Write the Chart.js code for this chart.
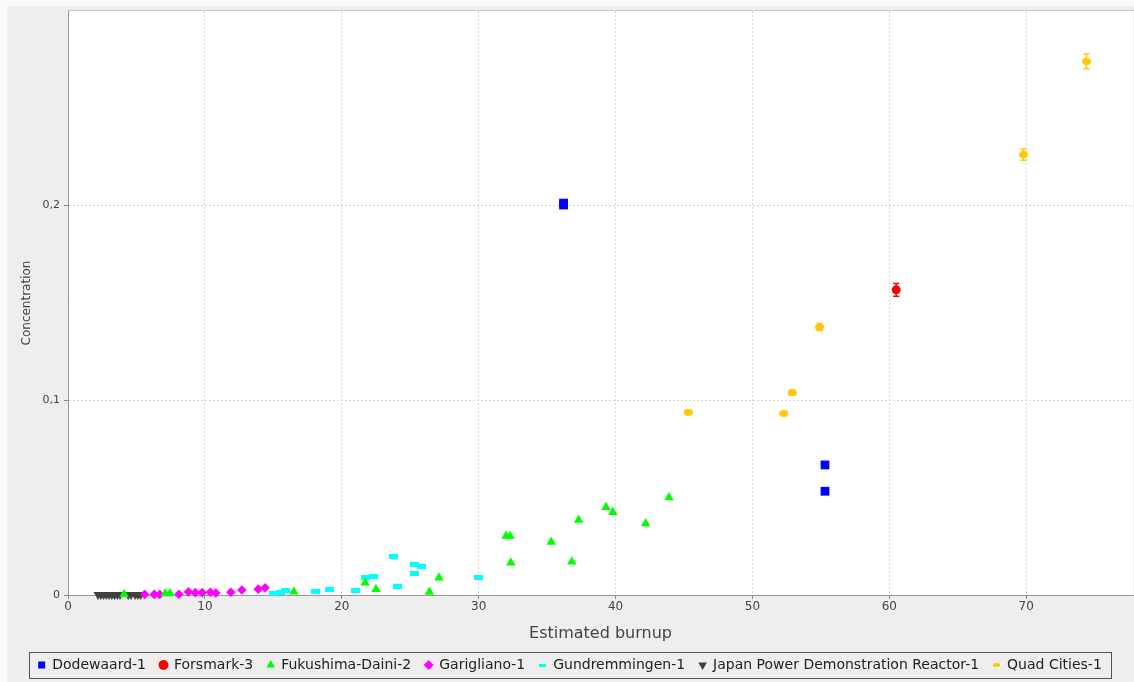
<!DOCTYPE html>
<html>
<head>
    <title>Concentration vs estimated burnup</title>
    <script src="https://cdn.jsdelivr.net/npm/chart.js"></script>
    <style>
        html, body { margin: 0; padding: 0; background: #fff; }
    </style>
</head>
<body>
    <canvas id="chart" width="1134" height="682"></canvas>
    <script>
        // burnup (x) / concentration (y) / error (+-) per reactor
        const dodewaardX = [36.2, 36.2, 55.3, 55.3];
        const dodewaardY = [0.2000, 0.2010, 0.0667, 0.0532];

        const forsmarkX = [60.5];
        const forsmarkY = [0.1565];
        const forsmarkErr = [0.0033];

        const fukushimaX = [4.1, 7.1, 7.45, 16.5, 21.7, 22.5, 26.4, 27.1, 32.0, 32.3, 32.35, 35.3, 36.8, 37.3, 39.3, 39.8, 42.2, 43.9];
        const fukushimaY = [0.0004, 0.0008, 0.0008, 0.0017, 0.0063, 0.0029, 0.0015, 0.0088, 0.0302, 0.0302, 0.0166, 0.0272, 0.0170, 0.0385, 0.0450, 0.0425, 0.0367, 0.0500];

        const gariglianoX = [5.6, 6.3, 6.7, 8.1, 8.8, 9.3, 9.8, 10.4, 10.8, 11.9, 12.7, 13.9, 14.4];
        const gariglianoY = [0.0003, 0.0003, 0.0003, 0.0004, 0.0016, 0.0012, 0.0012, 0.0014, 0.0010, 0.0014, 0.0026, 0.0030, 0.0037];

        const gundremmingenX = [15.0, 15.5, 15.9, 18.1, 19.1, 21.0, 21.7, 22.3, 23.8, 24.1, 25.3, 25.8, 25.3, 30.0];
        const gundremmingenY = [0.0010, 0.0012, 0.0025, 0.0017, 0.0030, 0.0025, 0.0090, 0.0096, 0.0200, 0.0046, 0.0158, 0.0148, 0.0110, 0.0090];

        const jpdrX = [2.2, 2.4, 2.6, 2.8, 3.0, 3.2, 3.4, 3.6, 3.8, 4.4, 4.6, 4.9, 5.1, 5.3];
        const jpdrY = [0.0002, 0.0002, 0.0002, 0.0002, 0.0002, 0.0002, 0.0002, 0.0002, 0.0002, 0.0002, 0.0002, 0.0002, 0.0002, 0.0002];

        const quadX = [45.3, 52.3, 52.9, 54.9, 69.8, 74.4];
        const quadY = [0.0938, 0.0932, 0.1038, 0.1374, 0.2258, 0.2737];
        const quadErr = [0.0005, 0.0005, 0.0012, 0.0018, 0.0029, 0.0038];

        const xTicksStep = 10;
        const yTicksStep = 0.1;

        const pts = (xs, ys) => xs.map((x, i) => ({x: x, y: ys[i]}));

        // small canvases used as marker shapes
        function barMark(color, w, h) {
            const c = document.createElement('canvas');
            c.width = w; c.height = h;
            const g = c.getContext('2d');
            g.fillStyle = color;
            g.fillRect(0, 0, w, h);
            return c;
        }
        function ovalMark(color, w, h) {
            const c = document.createElement('canvas');
            c.width = w; c.height = h;
            const g = c.getContext('2d');
            g.fillStyle = color;
            g.beginPath();
            g.ellipse(w / 2, h / 2, w / 2, h / 2, 0, 0, Math.PI * 2);
            g.fill();
            return c;
        }

        const bg = {
            id: 'bg',
            beforeDraw(chart) {
                const {ctx, chartArea: a} = chart;
                ctx.save();
                ctx.fillStyle = '#fafafa';
                ctx.fillRect(0, 0, chart.width, chart.height);
                ctx.fillStyle = '#eeeeee';
                ctx.fillRect(7, 6, chart.width - 7, chart.height - 6);
                ctx.fillStyle = '#ffffff';
                ctx.fillRect(a.left, a.top, a.right - a.left, a.bottom - a.top);
                ctx.strokeStyle = '#c8c8c8';
                ctx.lineWidth = 1;
                ctx.beginPath();
                ctx.moveTo(a.left, a.top - 0.5);
                ctx.lineTo(chart.width, a.top - 0.5);
                ctx.stroke();
                ctx.restore();
            }
        };

        const errorBars = {
            id: 'errorBars',
            afterDatasetsDraw(chart) {
                const {ctx, scales: {x, y}} = chart;
                chart.data.datasets.forEach(ds => {
                    if (!ds.errors) return;
                    ctx.save();
                    ctx.strokeStyle = ds.backgroundColor;
                    ctx.lineWidth = 1.5;
                    ds.data.forEach((p, j) => {
                        const e = ds.errors[j];
                        const px = x.getPixelForValue(p.x);
                        const top = y.getPixelForValue(p.y + e);
                        const bot = y.getPixelForValue(p.y - e);
                        ctx.beginPath();
                        ctx.moveTo(px, top); ctx.lineTo(px, bot);
                        ctx.moveTo(px - 3, top); ctx.lineTo(px + 3, top);
                        ctx.moveTo(px - 3, bot); ctx.lineTo(px + 3, bot);
                        ctx.stroke();
                    });
                    ctx.restore();
                });
            }
        };

        const legendBox = {
            id: 'legendBox',
            afterDraw(chart) {
                const boxes = chart.legend.legendHitBoxes;
                if (!boxes.length) return;
                const left = Math.min(...boxes.map(b => b.left)) - 9;
                const right = Math.max(...boxes.map(b => b.left + b.width)) + 9;
                const top = boxes[0].top - 6;
                const h = boxes[0].height + 12;
                const ctx = chart.ctx;
                ctx.save();
                ctx.strokeStyle = '#555';
                ctx.lineWidth = 1;
                ctx.strokeRect(Math.round(left) + 0.5, Math.round(top) + 0.5, Math.round(right - left), h);
                ctx.restore();
            }
        };

        const datasets = [
            {label: 'Dodewaard-1', data: pts(dodewaardX, dodewaardY), backgroundColor: '#0000ff', pointStyle: 'rect', pointRadius: 6.2},
            {label: 'Forsmark-3', data: pts(forsmarkX, forsmarkY), errors: forsmarkErr, backgroundColor: '#ff0000', pointStyle: 'circle', pointRadius: 4.5},
            {label: 'Fukushima-Daini-2', data: pts(fukushimaX, fukushimaY), backgroundColor: '#00ff00', pointStyle: 'triangle', pointRadius: 5.5},
            {label: 'Garigliano-1', data: pts(gariglianoX, gariglianoY), backgroundColor: '#ff00ff', pointStyle: 'rectRot', pointRadius: 4.8},
            {label: 'Gundremmingen-1', data: pts(gundremmingenX, gundremmingenY), backgroundColor: '#00ffff', pointStyle: barMark('#00ffff', 9, 5), legendStyle: barMark('#00ffff', 7, 3)},
            {label: 'Japan Power Demonstration Reactor-1', data: pts(jpdrX, jpdrY), backgroundColor: '#404040', pointStyle: 'triangle', rotation: 180, pointRadius: 5.3},
            {label: 'Quad Cities-1', data: pts(quadX, quadY), errors: quadErr, backgroundColor: '#ffc800', pointStyle: ovalMark('#ffc800', 9, 7), legendStyle: ovalMark('#ffc800', 7, 4)}
        ];
        datasets.forEach(d => { d.borderWidth = 0; d.borderColor = d.backgroundColor; d.clip = false; });

        Chart.defaults.font.family = '"DejaVu Sans", sans-serif';
        Chart.defaults.color = '#444';

        new Chart(document.getElementById('chart'), {
            type: 'scatter',
            data: {datasets: datasets},
            plugins: [bg, errorBars, legendBox],
            options: {
                responsive: false,
                animation: false,
                layout: {autoPadding: false, padding: {left: 7, top: 11, right: 1, bottom: 0}},
                plugins: {
                    tooltip: {enabled: false},
                    legend: {
                        position: 'bottom',
                        labels: {
                            usePointStyle: true,
                            boxWidth: 7,
                            boxHeight: 7,
                            padding: 14,
                            color: '#222',
                            font: {size: 14},
                            generateLabels(chart) {
                                const items = Chart.defaults.plugins.legend.labels.generateLabels(chart);
                                items.forEach(it => {
                                    const ds = chart.data.datasets[it.datasetIndex];
                                    if (ds.legendStyle) it.pointStyle = ds.legendStyle;
                                });
                                return items;
                            }
                        }
                    }
                },
                scales: {
                    x: {
                        type: 'linear',
                        min: 0,
                        max: 77.8,
                        afterFit(s) { s.height = 49; },
                        title: {display: true, text: 'Estimated burnup', font: {size: 16}, color: '#444', padding: {top: 2, bottom: 1}},
                        ticks: {stepSize: xTicksStep, includeBounds: false, font: {size: 12}, padding: 1, maxRotation: 0},
                        grid: {color: '#d6d6d6', tickColor: '#888', tickLength: 4, tickBorderDash: []},
                        border: {color: '#999', dash: [2, 2]}
                    },
                    y: {
                        type: 'linear',
                        min: 0,
                        max: 0.2995,
                        afterFit(s) { s.width = 61; },
                        title: {display: true, text: 'Concentration', font: {size: 12}, color: '#444', padding: {top: 13, bottom: 0}},
                        ticks: {
                            stepSize: yTicksStep,
                            includeBounds: false,
                            font: {size: 11},
                            padding: 4,
                            callback: v => v === 0 ? '0' : v.toFixed(1).replace('.', ',')
                        },
                        grid: {color: '#d6d6d6', tickColor: '#888', tickLength: 4, tickBorderDash: []},
                        border: {color: '#999', dash: [2, 2]}
                    }
                }
            }
        });
    </script>
</body>
</html>
